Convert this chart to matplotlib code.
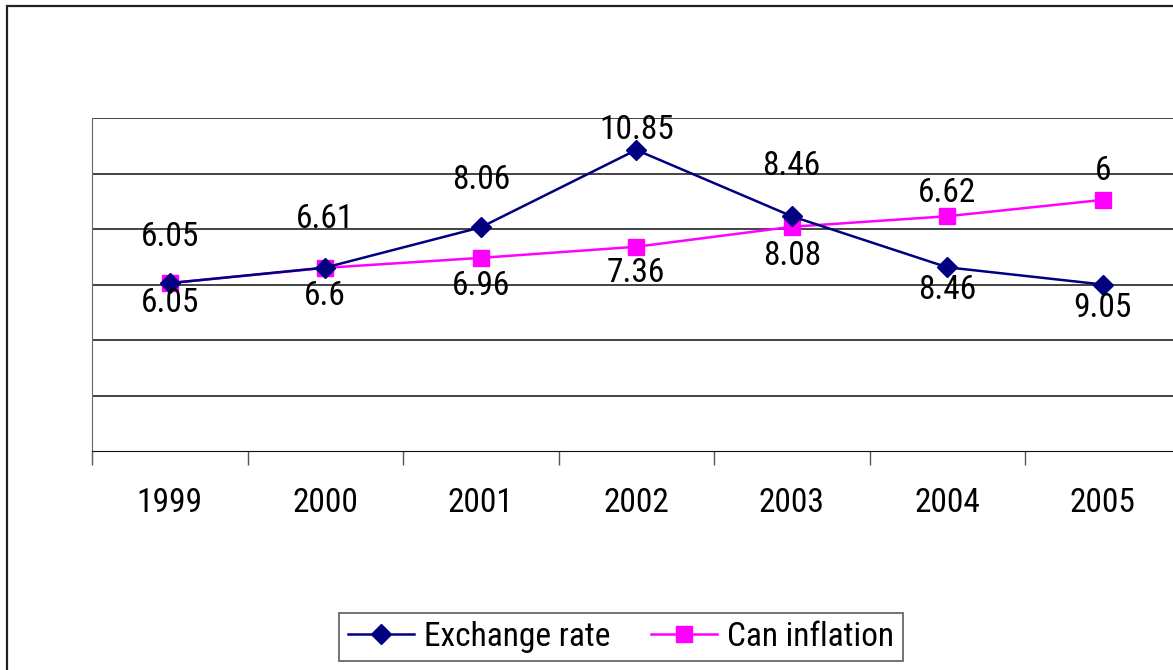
import matplotlib.pyplot as plt
import matplotlib.patches as patches
import numpy as np

years = ['1999', '2000', '2001', '2002', '2003', '2004', '2005']
exchange_rate = [6.05, 6.61, 8.06, 10.85, 8.46, 6.62, 6.0]
can_inflation = [6.05, 6.6, 6.96, 7.36, 8.08, 8.46, 9.05]

# label offsets in pixels (Excel labels were dragged around by hand)
ex_off = [46, 49, 47, 20, 50, 74, 114]
inf_off = [-20, -28, -28, -26, -29, -74, -108]

plt.rcParams['font.family'] = ['Roboto Condensed', 'Liberation Sans', 'DejaVu Sans']

fig = plt.figure(figsize=(11.73, 6.70), dpi=100)
fig.patches.append(patches.Rectangle((7/1173, -0.1), 1.2, 1 - 6/670 + 0.1, transform=fig.transFigure,
                                     fill=False, edgecolor='#222222', linewidth=1.6))

ax = fig.add_axes([92/1173, 1 - 451/670, 1088.5/1173, 333/670])
x = np.arange(len(years))

ax.plot(x, exchange_rate, color='#000080', linewidth=1.8, marker='D', markersize=10,
        label='Exchange rate', zorder=5, clip_on=False)
ax.plot(x, can_inflation, color='#FF00FF', linewidth=1.8, marker='s', markersize=11,
        label='Can inflation', zorder=4, clip_on=False)

for i in range(len(years)):
    ax.annotate(f'{exchange_rate[i]:g}', xy=(x[i], exchange_rate[i]), xytext=(0, ex_off[i] * 0.72),
                textcoords='offset points', ha='center', va='center', fontsize=24, zorder=6)
    ax.annotate(f'{can_inflation[i]:g}', xy=(x[i], can_inflation[i]), xytext=(0, inf_off[i] * 0.72),
                textcoords='offset points', ha='center', va='center', fontsize=24, zorder=6)

ax.set_xlim(-0.5, 6.5)
ax.set_ylim(0, 12)
ax.set_yticks([])
for v in [2, 4, 6, 8, 10, 12]:
    ax.axhline(v, color='#111111', linewidth=1.1, zorder=1)

ax.set_xticks(x)
ax.set_xticklabels(years, fontsize=24)
ax.set_xticks(np.arange(-0.5, 7, 1), minor=True)
ax.tick_params(axis='x', which='major', length=0, pad=26)
ax.tick_params(axis='x', which='minor', length=10, width=1, color='#555555', direction='out')

ax.spines['right'].set_visible(False)
ax.spines['top'].set_visible(False)
ax.spines['left'].set_color('#666666')
ax.spines['left'].set_bounds(-0.36, 12)
ax.spines['bottom'].set_color('#111111')

leg = fig.legend(loc='center', bbox_to_anchor=(621/1173, 1 - 637/670), ncol=2, fontsize=24,
                 frameon=True, fancybox=False, edgecolor='#333333', handlelength=2.0,
                 columnspacing=1.2, handletextpad=0.3, borderpad=0.25, borderaxespad=0)
leg.get_frame().set_linewidth(1.2)

fig.savefig('out.png', dpi=100)
